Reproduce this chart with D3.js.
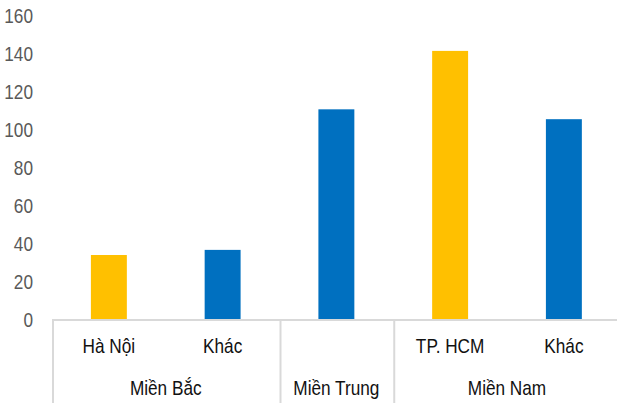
<!DOCTYPE html>
<html>
<head>
<meta charset="utf-8">
<script src="https://cdn.jsdelivr.net/npm/d3@7"></script>
<style>
  body { margin: 0; background: #fff; }
  svg { display: block; }
  text { font-family: "Liberation Sans", Arial, sans-serif; }
</style>
</head>
<body>
<svg id="chart" width="617" height="403"></svg>
<script>
// chart data
const categories = ["Hà Nội", "Khác", "", "TP. HCM", "Khác"];
const groups = ["Miền Bắc", "Miền Bắc", "Miền Trung", "Miền Nam", "Miền Nam"];
const groupNames = ["Miền Bắc", "Miền Trung", "Miền Nam"];
const values = [34, 36.7, 110.8, 141.6, 105.6];
const highlight = [true, false, false, true, false];
const yTicks = [0, 20, 40, 60, 80, 100, 120, 140, 160];

const svg = d3.select('#chart');
const left = 52, bandW = 113.75;
const narrow = 0.82; // no Arial Narrow here, squeeze Liberation Sans instead

const x = d3.scaleBand()
  .domain(d3.range(categories.length))
  .range([left, left + bandW * categories.length]);

const y = d3.scaleLinear().domain([0, 160]).range([319.5, 16]);

const place = (px, py) => `translate(${px},${py}) scale(${narrow},1)`;

// y tick labels (no axis line, no gridlines)
svg.append('g').selectAll('text')
  .data(yTicks)
  .join('text')
  .attr('transform', d => place(33, y(d)))
  .attr('dy', '0.35em')
  .attr('text-anchor', 'end')
  .attr('font-size', 21)
  .attr('fill', '#595959')
  .text(d => d);

// bars
const barW = x.bandwidth() * 0.316;
svg.append('g').selectAll('rect')
  .data(values)
  .join('rect')
  .attr('x', (d, i) => x(i) + (x.bandwidth() - barW) / 2)
  .attr('y', d => y(d))
  .attr('width', barW)
  .attr('height', d => y(0) - y(d))
  .attr('fill', (d, i) => highlight[i] ? '#FFC000' : '#0070C0');

// category axis: baseline + group separators
const axisColor = '#d9d9d9';
svg.append('line')
  .attr('x1', left).attr('x2', 617)
  .attr('y1', 320).attr('y2', 320)
  .attr('stroke', axisColor).attr('stroke-width', 2);

// separators at the group boundaries
const bounds = [0];
groups.forEach((g, i) => { if (i > 0 && g !== groups[i - 1]) bounds.push(i); });
svg.append('g').selectAll('line')
  .data(bounds)
  .join('line')
  .attr('x1', i => x(i) + 1).attr('x2', i => x(i) + 1)
  .attr('y1', 320).attr('y2', 403)
  .attr('stroke', axisColor).attr('stroke-width', 2);

// sub-category labels
svg.append('g').selectAll('text')
  .data(categories)
  .join('text')
  .attr('transform', (d, i) => place(x(i) + x.bandwidth() / 2, 353))
  .attr('text-anchor', 'middle')
  .attr('font-size', 21)
  .attr('fill', '#111')
  .text(d => d);

// group labels
svg.append('g').selectAll('text')
  .data(groupNames)
  .join('text')
  .attr('transform', g => {
    const idx = groups.map((d, i) => d === g ? i : -1).filter(i => i >= 0);
    return place((x(idx[0]) + x(idx[idx.length - 1]) + x.bandwidth()) / 2, 395);
  })
  .attr('text-anchor', 'middle')
  .attr('font-size', 21)
  .attr('fill', '#111')
  .text(d => d);
</script>
</body>
</html>
